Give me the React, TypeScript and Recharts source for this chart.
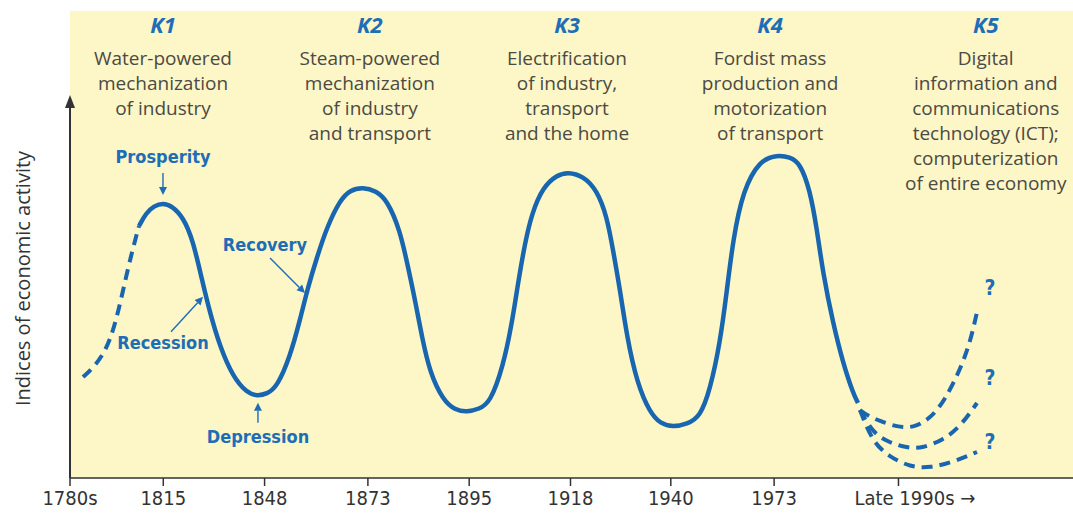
import React from "react";
import {
  ComposedChart,
  Line,
  XAxis,
  YAxis,
  ReferenceArea,
  ReferenceLine,
  ReferenceDot,
} from "recharts";

const BLUE = "#1865b0";
const LABEL_BLUE = "#1d6db7";
const GREY = "#4b4a44";
const AXIS = "#333";
const PAPER = "#fdf6c6";
const NARROW = "'Liberation Sans Narrow', 'DejaVu Sans Condensed', 'Liberation Sans', sans-serif";
const SANS = "'Open Sans', 'Noto Sans', sans-serif";

// x: position along the time axis (0-100), y: index of economic activity (0-100)
const tickPositions = [0, 9.3, 19.4, 29.7, 39.8, 49.9, 59.9, 70.2, 82.6];
const tickLabels = ["1780s", "1815", "1848", "1873", "1895", "1918", "1940", "1973", "Late 1990s"];

const earlyWave = [
  { x: 1.3, y: 21.63 }, { x: 2.49, y: 23.98 }, { x: 3.59, y: 27.41 }, { x: 4.39, y: 32.12 },
  { x: 5.08, y: 38.12 }, { x: 5.68, y: 43.9 }, { x: 6.28, y: 49.25 }, { x: 6.88, y: 53.96 },
];

const mainWave = [
  { x: 6.88, y: 53.96 }, { x: 7.58, y: 56.75 }, { x: 8.37, y: 58.24 }, { x: 9.27, y: 58.89 },
  { x: 10.17, y: 58.24 }, { x: 11.27, y: 55.89 }, { x: 12.26, y: 50.96 }, { x: 13.16, y: 42.4 },
  { x: 13.96, y: 35.33 }, { x: 14.96, y: 28.05 }, { x: 16.25, y: 21.63 }, { x: 17.65, y: 18.2 },
  { x: 18.64, y: 17.56 }, { x: 19.64, y: 17.99 }, { x: 20.64, y: 19.49 }, { x: 21.93, y: 25.91 },
  { x: 22.93, y: 33.83 }, { x: 23.73, y: 40.9 }, { x: 24.63, y: 47.32 }, { x: 25.62, y: 53.75 },
  { x: 26.92, y: 59.53 }, { x: 27.92, y: 61.67 }, { x: 29.21, y: 62.31 }, { x: 30.51, y: 61.46 },
  { x: 31.61, y: 59.53 }, { x: 32.9, y: 53.1 }, { x: 33.7, y: 45.18 }, { x: 34.4, y: 38.12 },
  { x: 35.09, y: 30.19 }, { x: 35.89, y: 22.48 }, { x: 37.19, y: 16.7 }, { x: 38.38, y: 14.56 },
  { x: 39.58, y: 14.13 }, { x: 40.78, y: 14.78 }, { x: 41.87, y: 16.06 }, { x: 43.17, y: 23.77 },
  { x: 44.07, y: 33.19 }, { x: 44.67, y: 41.76 }, { x: 45.36, y: 50.32 }, { x: 46.06, y: 56.75 },
  { x: 47.16, y: 62.31 }, { x: 48.55, y: 64.88 }, { x: 49.65, y: 65.52 }, { x: 51.15, y: 64.67 },
  { x: 52.54, y: 61.67 }, { x: 53.54, y: 55.89 }, { x: 54.14, y: 48.82 }, { x: 54.84, y: 40.26 },
  { x: 55.53, y: 30.19 }, { x: 56.53, y: 20.34 }, { x: 57.83, y: 13.92 }, { x: 58.92, y: 11.56 },
  { x: 60.12, y: 10.92 }, { x: 61.52, y: 11.56 }, { x: 62.81, y: 13.06 }, { x: 63.81, y: 18.84 },
  { x: 64.81, y: 28.91 }, { x: 65.5, y: 40.26 }, { x: 66.1, y: 50.96 }, { x: 67.1, y: 61.67 },
  { x: 68.79, y: 68.09 }, { x: 70.49, y: 69.16 }, { x: 71.78, y: 68.74 }, { x: 72.78, y: 67.45 },
  { x: 73.78, y: 61.67 }, { x: 74.48, y: 53.1 }, { x: 75.07, y: 43.9 }, { x: 76.07, y: 33.19 },
  { x: 77.07, y: 24.63 }, { x: 78.07, y: 18.2 }, { x: 78.56, y: 16.06 },
];

const futureHigh = [
  { x: 78.76, y: 14.56 }, { x: 79.56, y: 13.28 }, { x: 80.76, y: 12.21 }, { x: 82.45, y: 10.92 },
  { x: 84.05, y: 10.71 }, { x: 85.74, y: 12.63 }, { x: 87.24, y: 16.7 }, { x: 88.73, y: 23.13 },
  { x: 89.73, y: 28.91 }, { x: 90.43, y: 35.55 },
];
const futureMid = [
  { x: 78.76, y: 14.56 }, { x: 80.06, y: 9.64 }, { x: 81.56, y: 7.71 }, { x: 83.45, y: 6.42 },
  { x: 85.04, y: 6.42 }, { x: 87.04, y: 8.14 }, { x: 88.73, y: 10.92 }, { x: 90.43, y: 16.06 },
];
const futureLow = [
  { x: 78.76, y: 14.56 }, { x: 80.06, y: 7.49 }, { x: 81.75, y: 4.5 }, { x: 83.75, y: 2.36 },
  { x: 85.74, y: 2.14 }, { x: 88.04, y: 3.43 }, { x: 90.43, y: 5.57 },
];

const waveCodes = ["K1", "K2", "K3", "K4", "K5"];
const waveCenters = [9.27, 29.9, 49.55, 69.8, 91.3];
const waveTopics = [
  ["Water-powered", "mechanization", "of industry"],
  ["Steam-powered", "mechanization", "of industry", "and transport"],
  ["Electrification", "of industry,", "transport", "and the home"],
  ["Fordist mass", "production and", "motorization", "of transport"],
  ["Digital", "information and", "communications", "technology (ICT);", "computerization", "of entire economy"],
];

const phaseNames = ["Prosperity", "Recession", "Recovery", "Depression"];
const phaseTargets = [
  { x: 9.27, y: 60.6 },
  { x: 13.26, y: 38.8 },
  { x: 23.43, y: 39.6 },
  { x: 18.74, y: 16.1 },
];
// pixel offsets from the target: label centre and arrow start
const phaseLayout = [
  { tx: 0, ty: -38, ax: 0, ay: -22 },
  { tx: -40, ty: 46, ax: -32, ay: 35 },
  { tx: -40, ty: -48, ax: -35, ay: -35 },
  { tx: 0, ty: 34, ax: 0, ay: 20 },
];
const questionOffsets = [
  { dx: 13, dy: -24 },
  { dx: 13, dy: -25 },
  { dx: 13, dy: -10 },
];

function Arrow({ x1, y1, x2, y2 }: any) {
  const ang = Math.atan2(y2 - y1, x2 - x1);
  const len = 8;
  const w = 4;
  const bx = x2 - Math.cos(ang) * len;
  const by = y2 - Math.sin(ang) * len;
  const px = -Math.sin(ang) * w;
  const py = Math.cos(ang) * w;
  return (
    <g>
      <line x1={x1} y1={y1} x2={bx} y2={by} stroke={LABEL_BLUE} strokeWidth={1.4} />
      <polygon points={`${x2},${y2} ${bx + px},${by + py} ${bx - px},${by - py}`} fill={LABEL_BLUE} />
    </g>
  );
}

function PhaseLabel({ cx, cy, index }: any) {
  const l = phaseLayout[index];
  return (
    <g>
      <Arrow x1={cx + l.ax} y1={cy + l.ay} x2={cx} y2={cy} />
      <text
        x={cx + l.tx}
        y={cy + l.ty + 6}
        textAnchor="middle"
        fill={LABEL_BLUE}
        fontFamily={NARROW}
        fontWeight="bold"
        fontSize={18}
      >
        {phaseNames[index]}
      </text>
    </g>
  );
}

function WaveHeader({ cx, cy, index }: any) {
  return (
    <g>
      <text
        x={cx}
        y={cy + 22}
        textAnchor="middle"
        fill={LABEL_BLUE}
        fontFamily={SANS}
        fontWeight="bold"
        fontStyle="italic"
        fontSize={22}
      >
        {waveCodes[index]}
      </text>
      {waveTopics[index].map((line, i) => (
        <text
          key={line}
          x={cx}
          y={cy + 54 + i * 25}
          textAnchor="middle"
          fill={GREY}
          fontFamily={SANS}
          fontSize={19}
        >
          {line}
        </text>
      ))}
    </g>
  );
}

function YearTick({ x, y, payload }: any) {
  const i = tickPositions.indexOf(payload.value);
  const label = tickLabels[i];
  const last = i === tickLabels.length - 1;
  return (
    <text
      x={last ? x - 44 : x}
      y={y + 17}
      textAnchor={last ? "start" : "middle"}
      fill={AXIS}
      fontFamily={NARROW}
      fontSize={20}
    >
      {last ? `${label} \u2192` : label}
    </text>
  );
}

function AxisTitle({ viewBox }: any) {
  const x = viewBox.x + 22;
  const y = viewBox.y + viewBox.height / 2 + 34;
  return (
    <text
      x={x}
      y={y}
      transform={`rotate(-90, ${x}, ${y})`}
      textAnchor="middle"
      dominantBaseline="central"
      fill={AXIS}
      fontFamily={SANS}
      fontSize={20}
    >
      Indices of economic activity
    </text>
  );
}

function AxisArrowHead({ cx, cy }: any) {
  return <polygon points={`${cx},${cy} ${cx - 5},${cy + 13} ${cx + 5},${cy + 13}`} fill={AXIS} />;
}

export default function App() {
  const lineProps = {
    type: "basis" as const,
    dataKey: "y",
    stroke: BLUE,
    dot: false,
    activeDot: false,
    isAnimationActive: false,
    strokeLinecap: "butt" as const,
  };
  const futures = [futureHigh, futureMid, futureLow];

  return (
    <div style={{ width: 1073, height: 515, background: "#fff", fontFamily: SANS }}>
      <style>{"body{margin:0}"}</style>
      <ComposedChart width={1073} height={515} margin={{ top: 11, right: 0, bottom: 0, left: 0 }}>
        <XAxis
          type="number"
          dataKey="x"
          domain={[0, 100]}
          ticks={tickPositions}
          interval={0}
          tick={<YearTick />}
          tickSize={8}
          tickLine={{ stroke: AXIS, strokeWidth: 1.5 }}
          axisLine={{ stroke: AXIS, strokeWidth: 1.5 }}
          height={37}
          allowDataOverflow
        />
        <YAxis
          type="number"
          domain={[0, 100]}
          width={70}
          tick={false}
          tickLine={false}
          axisLine={false}
          label={<AxisTitle />}
          allowDataOverflow
        />
        <ReferenceArea x1={0} x2={100} y1={0} y2={100} fill={PAPER} fillOpacity={1} stroke="none" ifOverflow="visible" />
        <ReferenceLine
          segment={[{ x: 0, y: 0 }, { x: 0, y: 79.5 }]}
          stroke={AXIS}
          strokeWidth={2}
          ifOverflow="visible"
        />
        <ReferenceDot x={0} y={82} r={0} ifOverflow="visible" shape={<AxisArrowHead />} />

        {waveCodes.map((code, i) => (
          <ReferenceDot
            key={code}
            x={waveCenters[i]}
            y={100}
            r={0}
            ifOverflow="visible"
            shape={(p: any) => <WaveHeader {...p} index={i} />}
          />
        ))}

        <Line {...lineProps} data={earlyWave} strokeWidth={4} strokeDasharray="11 7" />
        <Line {...lineProps} data={mainWave} strokeWidth={4.5} />
        {futures.map((d, i) => (
          <Line key={`future-${i}`} {...lineProps} data={d} strokeWidth={4} strokeDasharray="11 7" />
        ))}

        {futures.map((d, i) => (
          <ReferenceDot
            key={`q-${i}`}
            x={d[d.length - 1].x}
            y={d[d.length - 1].y}
            r={0}
            ifOverflow="visible"
            shape={(p: any) => (
              <text
                x={p.cx + questionOffsets[i].dx}
                y={p.cy + questionOffsets[i].dy + 7}
                textAnchor="middle"
                fill={LABEL_BLUE}
                fontFamily={NARROW}
                fontWeight="bold"
                fontSize={21}
              >
                ?
              </text>
            )}
          />
        ))}

        {phaseNames.map((name, i) => (
          <ReferenceDot
            key={name}
            x={phaseTargets[i].x}
            y={phaseTargets[i].y}
            r={0}
            ifOverflow="visible"
            shape={(p: any) => <PhaseLabel {...p} index={i} />}
          />
        ))}
      </ComposedChart>
    </div>
  );
}
